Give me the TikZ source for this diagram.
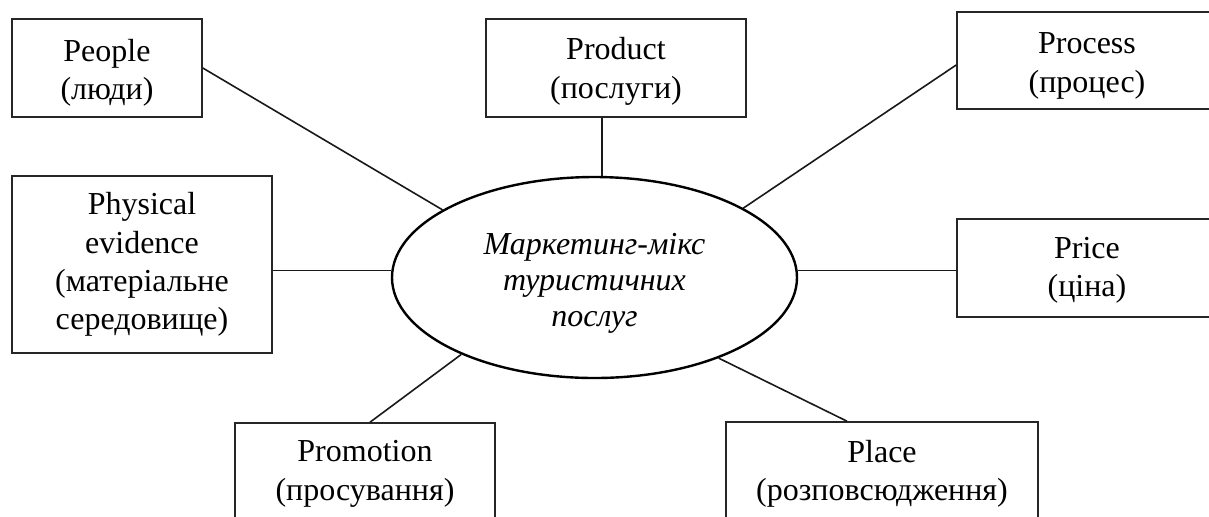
\documentclass[tikz,border=0pt]{standalone}
\usepackage{fontspec}
\setmainfont{Liberation Serif}
\usetikzlibrary{shapes.geometric,calc}
\begin{document}
\begin{tikzpicture}[x=0.5pt,y=-0.5pt,
  boxnode/.style={draw=black!85,line width=0.8pt,rectangle,inner sep=0pt},
  boxtext/.style={inner sep=0pt,align=center,font=\fontsize{16}{19.2}\selectfont},
  ellnode/.style={draw=black,line width=1.2pt,ellipse,inner sep=0pt,
    minimum width=202.5pt,minimum height=100.5pt},
  elltext/.style={inner sep=0pt,align=center,font=\fontsize{16}{18}\selectfont\itshape},
  link/.style={draw=black!90,line width=0.8pt}]
\useasboundingbox (0,0) rectangle (1209,516);
% boxes
\node[boxnode,minimum width=95pt,minimum height=49pt] (people) at (107,68) {};
\node[boxnode,minimum width=130pt,minimum height=49pt] (product) at (616,68) {};
\node[boxnode,minimum width=130pt,minimum height=48.5pt] (process) at (1087,60.5) {};
\node[boxnode,minimum width=130pt,minimum height=88.5pt] (physical) at (142,264.5) {};
\node[boxnode,minimum width=130pt,minimum height=49pt] (price) at (1087,268) {};
\node[boxnode,minimum width=130pt,minimum height=49pt] (promotion) at (365,472) {};
\node[boxnode,minimum width=156pt,minimum height=49pt] (place) at (882,471) {};
\node[ellnode] (ell) at (594.5,277.5) {};
% texts
\node[boxtext] (peoplet) at ($(people)+(0,4.5)$) {People\\(люди)};
\node[boxtext] (productt) at ($(product)+(0,3.5)$) {Product\\(послуги)};
\node[boxtext] (processt) at ($(process)+(0,5.5)$) {Process\\(процес)};
\node[boxtext] (physicalt) at ($(physical)+(0,0)$) {Physical\\evidence\\(матеріальне\\середовище)};
\node[boxtext] (pricet) at ($(price)+(0,2.5)$) {Price\\(ціна)};
\node[boxtext] (promotiont) at ($(promotion)+(0,2)$) {Promotion\\(просування)};
\node[boxtext] (placet) at ($(place)+(0,3)$) {Place\\(розповсюдження)};
\node[elltext] (ellt) at ($(ell)+(0,6)$) {Маркетинг-мікс\\туристичних\\послуг};
% connectors
\coordinate (prodfoot) at ($(product.south)+(-14,0)$);
\coordinate (placetop) at ($(place.north)+(-35,0)$);
\coordinate (promotop) at ($(promotion.north)+(5,0)$);
\coordinate (procside) at ($(process.west)+(0,4.5)$);
\path[link] (people.east) -- (ell.156);
\path[link] (prodfoot) -- (prodfoot |- ell.north);
\path[link] (procside) -- (ell.25);
\path[link] (ell.178) -- (ell.178 -| physical.east);
\path[link] (ell.2) -- (ell.2 -| price.west);
\path[link] (promotop) -- (ell.210);
\path[link] (placetop) -- (ell.-33);
\end{tikzpicture}
\end{document}
